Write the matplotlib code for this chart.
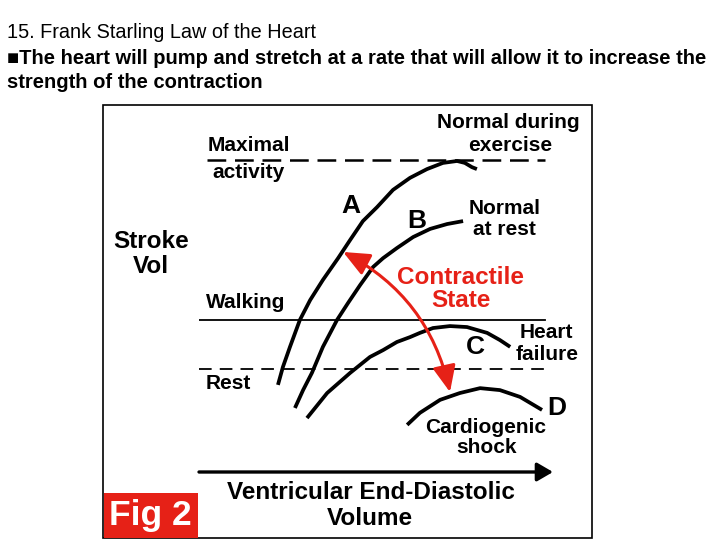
import matplotlib
matplotlib.use("Agg")
import matplotlib.pyplot as plt
from matplotlib.patches import Rectangle

# Frank-Starling curves (EDV, stroke volume) in 0-100 units
edv_a = [22.3, 23.7, 25.7, 28.5, 31.4, 35.0, 39.3, 42.7, 46.3, 50.3, 54.8,
         59.6, 64.4, 68.9, 72.9, 75.1, 77.1, 78.5]
sv_a = [26.8, 32.3, 38.5, 46.8, 52.9, 59.1, 65.8, 71.4, 77.2, 81.5, 86.8,
        90.5, 93.2, 95.1, 95.7, 95.1, 93.8, 93.2]
edv_b = [27.1, 29.4, 31.9, 35.0, 39.0, 42.1, 45.5, 49.2, 52.0, 55.9, 60.5,
         65.3, 70.1, 74.6]
sv_b = [19.7, 25.2, 30.5, 38.5, 46.8, 52.0, 57.5, 63.1, 65.8, 68.9, 72.3,
        74.8, 76.3, 77.2]
edv_c = [30.5, 36.2, 42.7, 48.3, 52.0, 55.9, 59.6, 62.4, 66.1, 70.9, 75.7,
         81.4, 85.0, 87.9]
sv_c = [16.6, 24.3, 30.5, 35.4, 37.5, 40.0, 41.5, 42.8, 44.3, 44.9, 44.6,
        42.8, 40.6, 38.5]
edv_d = [58.8, 62.4, 68.1, 73.7, 79.4, 85.0, 90.7, 96.9]
sv_d = [14.5, 18.2, 22.2, 24.3, 25.8, 25.2, 23.1, 19.1]

# activity levels (stroke volume)
level_max = 96.0
level_walking = 46.8
level_rest = 31.7

# contractile state arrow: from curve A down to curve D
arrow_from = (40.7, 67.7)
arrow_to = (70.9, 24.6)

RED = "#e62117"
FONT = ["Liberation Sans", "DejaVu Sans"]
plt.rcParams["font.family"] = FONT

fig = plt.figure(figsize=(7.2, 5.4), dpi=100)

# page text
fig.text(7 / 720, 1 - 33 / 540, "15. Frank Starling Law of the Heart",
         fontsize=14.3, va="center", ha="left")
fig.text(7 / 720, 1 - 58 / 540,
         "\u25a0The heart will pump and stretch at a rate that will allow it to increase the",
         fontsize=14.5, fontweight="bold", va="center", ha="left")
fig.text(7 / 720, 1 - 82 / 540, "strength of the contraction",
         fontsize=14.5, fontweight="bold", va="center", ha="left")

# frame and "Fig 2" tag, in pixel coordinates
bg = fig.add_axes([0, 0, 1, 1])
bg.set_xlim(0, 720)
bg.set_ylim(540, 0)
bg.axis("off")
bg.add_patch(Rectangle((103, 105), 489, 433, fill=False, lw=1.2, ec="black"))
bg.add_patch(Rectangle((104, 493), 94, 45, fc=RED, ec="none"))
bg.text(150, 516, "Fig 2", color="white", fontsize=25.5, fontweight="bold",
        ha="center", va="center")

# the chart itself
ax = fig.add_axes([199 / 720, 68 / 540, 354 / 720, 325 / 540])
ax.set_xlim(0, 100)
ax.set_ylim(0, 100)
ax.axis("off")
ax.patch.set_visible(False)

# axes with arrow heads
axis_arrow = dict(arrowstyle="-|>,head_length=0.6,head_width=0.35", lw=2.4,
                  color="black", mutation_scale=16, shrinkA=0, shrinkB=0)
ax.annotate("", xy=(0, 102), xytext=(0, 0), arrowprops=axis_arrow)
ax.annotate("", xy=(100, 0), xytext=(0, 0), arrowprops=axis_arrow)

# activity levels
ax.plot([2.3, 97.7], [level_max] * 2, color="black", lw=1.8, dashes=(7.5, 3.5))
ax.plot([0, 97.7], [level_walking] * 2, color="black", lw=1.3)
ax.plot([0, 97.7], [level_rest] * 2, color="black", lw=1.3, dashes=(7, 4.5))

for x, y in [(edv_a, sv_a), (edv_b, sv_b), (edv_c, sv_c), (edv_d, sv_d)]:
    ax.plot(x, y, color="black", lw=2.7, solid_joinstyle="round",
            solid_capstyle="butt")

ax.annotate("", xy=arrow_to, xytext=arrow_from,
            arrowprops=dict(arrowstyle="<|-|>,head_length=0.8,head_width=0.35",
                            connectionstyle="arc3,rad=-0.23", color=RED, lw=2.2,
                            mutation_scale=20, shrinkA=0, shrinkB=0))

small = dict(fontsize=15, fontweight="bold", va="center", clip_on=False)
big = dict(fontsize=17.5, fontweight="bold", va="center", clip_on=False)
letter = dict(fontsize=19, fontweight="bold", va="center", ha="center",
              clip_on=False)

ax.text(2.3, 100.6, "Maximal", ha="left", **small)
ax.text(3.7, 92.3, "activity", ha="left", **small)
ax.text(87.3, 107.4, "Normal during", ha="center", **small)
ax.text(87.8, 100.6, "exercise", ha="center", **small)
ax.text(86.4, 81.2, "Normal", ha="center", **small)
ax.text(86.4, 74.5, "at rest", ha="center", **small)
ax.text(2.0, 52.0, "Walking", ha="left", **small)
ax.text(2.0, 27.1, "Rest", ha="left", **small)
ax.text(98.0, 42.8, "Heart", ha="center", **small)
ax.text(98.3, 36.0, "failure", ha="center", **small)
ax.text(81.1, 13.8, "Cardiogenic", ha="center", **small)
ax.text(81.1, 7.4, "shock", ha="center", **small)

ax.text(42.9, 81.8, "A", **letter)
ax.text(61.6, 77.2, "B", **letter)
ax.text(78.0, 38.5, "C", **letter)
ax.text(101.1, 19.7, "D", **letter)

ax.text(-13.6, 70.8, "Stroke", ha="center", **big)
ax.text(-13.6, 63.1, "Vol", ha="center", **big)
ax.text(74.0, 60.0, "Contractile", ha="center", color=RED, **big)
ax.text(74.0, 52.9, "State", ha="center", color=RED, **big)
ax.text(48.6, -6.2, "Ventricular End-Diastolic", ha="center", **big)
ax.text(48.3, -14.2, "Volume", ha="center", **big)

fig.savefig("out.png", dpi=100)
